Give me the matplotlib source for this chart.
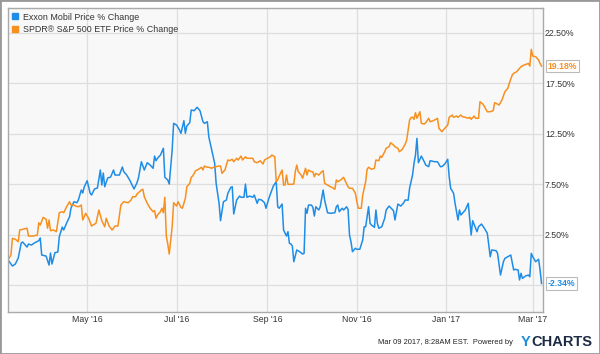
import pandas as pd
import matplotlib
matplotlib.use('Agg')
import matplotlib.pyplot as plt
from matplotlib.lines import Line2D
from matplotlib.patches import Rectangle

plt.rcParams['font.family'] = ['Liberation Sans', 'DejaVu Sans']

# day offsets from the base date, % change since base
start = pd.Timestamp('2016-03-08')

xom_days = [0, 3, 5, 7, 9, 10, 13, 14, 16, 18,
            21, 22, 23, 26, 28, 29, 30, 32, 34, 35,
            37, 38, 40, 42, 43, 45, 47, 48, 50, 51,
            52, 54, 56, 57, 59, 61, 63, 64, 65, 66,
            68, 70, 72, 73, 76, 78, 79, 81, 83, 84,
            86, 88, 89, 91, 93, 95, 97, 99, 100, 101,
            102, 104, 105, 106, 107, 109, 110, 112, 113, 115,
            117, 118, 120, 121, 122, 124, 125, 127, 129, 131,
            133, 134, 136, 137, 139, 141, 142, 144, 145, 147,
            149, 150, 152, 153, 154, 156, 158, 159, 161, 162,
            163, 165, 167, 168, 170, 171, 173, 175, 176, 178,
            180, 181, 183, 184, 185, 187, 188, 190, 191, 192,
            193, 194, 195, 197, 199, 201, 202, 203, 204, 205,
            207, 208, 209, 210, 212, 213, 214, 215, 216, 218,
            220, 223, 224, 225, 226, 228, 229, 231, 232, 233,
            234, 235, 237, 238, 240, 242, 243, 244, 246, 247,
            248, 250, 251, 252, 253, 255, 257, 258, 260, 263,
            264, 266, 268, 270, 271, 273, 274, 276, 277, 278,
            279, 280, 282, 284, 285, 287, 288, 291, 293, 295,
            296, 298, 300, 301, 302, 304, 305, 307, 308, 309,
            310, 312, 314, 316, 317, 320, 321, 323, 325, 327,
            329, 330, 333, 334, 336, 338, 339, 341, 343, 345,
            346, 348, 349, 350, 351, 353, 355, 356, 357, 358,
            360, 362, 363, 364]
xom_vals = [0.0, -0.62, -0.42, 0.18, 1.66, 1.76, 1.26, 1.56, 1.46, 1.66,
            1.89, 2.16, 0.47, 0.37, -0.52, 0.67, -0.42, 0.70, 0.77, 2.28,
            3.24, 2.95, 3.64, 4.26, 5.13, 5.75, 5.65, 5.92, 6.91, 6.61,
            7.20, 7.83, 6.61, 6.41, 7.01, 7.11, 8.89, 7.40, 8.59, 7.23,
            8.10, 8.19, 8.89, 8.39, 8.39, 9.19, 8.72, 8.39, 7.90, 7.60,
            7.01, 7.63, 8.10, 9.71, 8.89, 9.61, 9.38, 9.06, 10.27, 9.81,
            10.05, 10.37, 10.70, 11.04, 8.17, 7.90, 7.50, 10.87, 13.51, 13.34,
            12.85, 12.52, 13.77, 12.52, 13.25, 13.57, 14.83, 14.76, 15.10, 14.76,
            13.67, 13.51, 13.67, 12.17, 10.87, 9.55, 7.57, 5.59, 3.87, 5.75,
            5.92, 6.58, 7.17, 7.23, 4.53, 5.92, 6.31, 6.19, 6.19, 7.50,
            6.19, 6.31, 6.19, 6.41, 5.59, 5.99, 5.92, 5.65, 5.10, 6.09,
            6.91, 7.30, 7.73, 5.25, 5.10, 5.52, 2.95, 2.35, 2.78, 1.63,
            1.56, 1.36, -0.19, 0.97, 0.80, 0.57, 0.64, 5.10, 4.60, 5.42,
            5.42, 5.19, 4.33, 5.25, 4.93, 5.25, 6.09, 6.91, 5.92, 4.66,
            4.60, 4.66, 5.25, 5.42, 4.76, 5.10, 4.93, 5.25, 4.99, 2.45,
            1.79, 0.80, 1.14, 1.04, 1.04, 1.96, 3.27, 3.27, 5.25, 3.61,
            3.44, 3.21, 4.93, 3.61, 3.12, 3.27, 4.11, 4.93, 5.32, 4.86,
            3.94, 5.52, 5.32, 5.65, 5.92, 5.90, 7.10, 8.40, 9.55, 10.37,
            12.03, 9.61, 10.27, 9.71, 9.38, 9.22, 9.81, 9.71, 9.71, 9.22,
            9.22, 9.48, 9.95, 8.22, 7.08, 6.58, 5.59, 3.94, 4.93, 4.43,
            4.60, 4.93, 5.59, 2.45, 3.87, 2.78, 3.27, 3.54, 3.12, 2.62,
            0.30, 0.97, 0.90, 0.64, -1.51, -0.19, 0.14, 0.30, 0.47, -1.01,
            -0.94, -1.01, -2.00, -1.34, -1.84, -1.61, -1.51, -1.68, 0.64, 0.30,
            -0.19, 0.05, -1.01, -2.34]

spy_days = [0, 2, 3, 5, 7, 8, 10, 13, 14, 17,
            20, 21, 22, 24, 26, 27, 28, 29, 31, 33,
            35, 37, 38, 40, 42, 43, 45, 46, 48, 50,
            51, 53, 55, 57, 58, 60, 62, 64, 66, 67,
            69, 71, 73, 75, 77, 79, 82, 84, 85, 87,
            88, 91, 92, 93, 95, 97, 99, 100, 101, 102,
            104, 105, 106, 107, 108, 109, 110, 112, 113, 115,
            116, 118, 119, 121, 122, 124, 125, 126, 128, 129,
            130, 132, 133, 134, 136, 137, 139, 141, 142, 144,
            145, 146, 148, 150, 151, 153, 154, 156, 157, 159,
            160, 162, 163, 165, 167, 168, 170, 172, 174, 175,
            177, 179, 180, 182, 183, 184, 185, 187, 188, 189,
            190, 191, 193, 195, 196, 197, 198, 200, 201, 203,
            204, 205, 207, 208, 209, 210, 212, 213, 214, 215,
            216, 218, 220, 221, 223, 224, 225, 227, 229, 230,
            232, 233, 235, 237, 238, 239, 241, 242, 244, 245,
            246, 248, 250, 251, 253, 254, 255, 257, 258, 260,
            261, 263, 264, 266, 267, 269, 271, 272, 273, 274,
            275, 276, 277, 278, 279, 281, 282, 284, 285, 287,
            288, 290, 292, 293, 294, 296, 298, 300, 301, 303,
            304, 306, 307, 309, 310, 312, 314, 315, 316, 318,
            319, 321, 322, 324, 326, 327, 329, 331, 332, 334,
            335, 337, 339, 341, 342, 344, 345, 347, 349, 350,
            352, 354, 355, 356, 357, 358, 360, 362, 363, 364]
spy_vals = [0.0, 0.47, 2.12, 2.03, 1.79, 2.95, 3.02, 3.12, 2.35, 2.35,
            2.45, 3.67, 3.44, 4.20, 4.01, 3.12, 3.94, 2.88, 2.95, 2.78,
            4.66, 4.76, 4.66, 5.25, 5.75, 5.42, 5.42, 5.32, 5.25, 5.42,
            3.94, 4.60, 4.11, 3.34, 3.44, 3.61, 4.93, 3.87, 3.27, 4.11,
            3.34, 2.95, 3.34, 3.34, 5.42, 5.75, 5.65, 5.92, 6.24, 6.24,
            6.51, 6.91, 6.98, 6.24, 5.59, 5.10, 4.76, 4.86, 4.11, 4.43,
            4.76, 5.10, 4.66, 6.19, 2.35, 1.56, 0.57, 3.27, 5.65, 5.32,
            5.75, 5.19, 5.10, 6.09, 7.23, 7.57, 8.17, 8.29, 8.82, 8.89,
            8.96, 9.16, 8.89, 9.28, 9.16, 9.16, 9.06, 9.22, 9.22, 9.28,
            9.28, 8.56, 8.89, 9.88, 9.81, 9.95, 9.71, 10.05, 9.88, 10.27,
            9.88, 10.20, 10.05, 10.05, 10.05, 9.71, 9.61, 9.81, 9.48, 9.88,
            10.05, 10.20, 10.37, 10.20, 7.73, 7.90, 8.29, 8.89, 7.40, 7.40,
            8.39, 7.47, 7.47, 7.50, 8.72, 9.38, 8.72, 8.39, 8.07, 9.06,
            8.39, 8.89, 8.72, 8.72, 8.22, 8.56, 8.39, 8.56, 8.72, 8.82,
            7.57, 7.40, 7.23, 7.17, 6.98, 7.90, 7.73, 7.90, 8.17, 7.83,
            7.23, 7.08, 7.08, 6.58, 5.75, 5.10, 5.10, 6.41, 7.73, 8.96,
            9.16, 8.96, 9.06, 9.88, 9.81, 10.27, 10.14, 10.70, 11.04, 11.20,
            11.59, 11.36, 11.20, 11.04, 10.70, 10.94, 11.46, 11.86, 12.85, 13.84,
            14.09, 14.11, 13.91, 14.56, 14.01, 14.66, 13.51, 13.44, 13.57, 14.01,
            13.67, 13.77, 13.91, 14.01, 13.02, 12.68, 13.02, 13.34, 14.11, 14.33,
            14.11, 14.23, 14.11, 14.33, 14.17, 14.11, 14.01, 14.11, 13.91, 14.23,
            14.01, 14.01, 15.65, 15.42, 14.90, 14.66, 14.66, 14.76, 15.55, 15.42,
            15.32, 15.82, 16.64, 16.98, 17.47, 18.29, 18.46, 18.62, 18.96, 19.12,
            19.28, 19.38, 19.45, 19.18, 20.84, 20.17, 20.11, 19.78, 19.45, 19.18]

series_names = ['Exxon Mobil Price % Change', 'SPDR\u00ae S&P 500 ETF Price % Change']
series_colors = ['#1f8de6', '#f7901f']

ytick_vals = [-2.5, 2.5, 7.5, 12.5, 17.5, 22.5]
ytick_labels = ['', '2.50%', '7.50%', '12.50%', '17.50%', '22.50%']
xtick_dates = ['2016-05-01', '2016-07-01', '2016-09-01', '2016-11-01', '2017-01-01', '2017-03-01']
xtick_labels = ["May '16", "Jul '16", "Sep '16", "Nov '16", "Jan '17", "Mar '17"]

xom_dates = start + pd.to_timedelta(xom_days, unit='D')
spy_dates = start + pd.to_timedelta(spy_days, unit='D')

fig = plt.figure(figsize=(6, 3.54), dpi=100)
ax = fig.add_axes([8 / 600, 1 - 312 / 354, 535 / 600, 304 / 354])
ax.set_facecolor('#f8f8f8')

ax.plot(xom_dates, xom_vals, color=series_colors[0], lw=1.1)
ax.plot(spy_dates, spy_vals, color=series_colors[1], lw=1.1)

ax.set_xlim(start, start + pd.Timedelta(days=365))
ax.set_ylim(-5.17, 24.93)

ax.set_yticks(ytick_vals)
ax.set_yticklabels(ytick_labels)
ax.yaxis.tick_right()
ax.set_xticks(pd.to_datetime(xtick_dates))
ax.set_xticklabels(xtick_labels)
ax.tick_params(length=0, labelsize=6.3, colors='#333333')
ax.tick_params(axis='x', pad=2.5)
ax.tick_params(axis='y', pad=1.5)

ax.grid(color='#dedede', lw=0.9)
ax.set_axisbelow(True)
for s in ax.spines.values():
    s.set_color('#aaaaaa')
    s.set_linewidth(1)

handles = [Line2D([], [], marker='s', ls='none', color=c, markersize=4.5) for c in series_colors]
ax.legend(handles, series_names, loc='upper left', bbox_to_anchor=(0.008, 0.985),
          frameon=False, fontsize=6.4, handlelength=0.7, handletextpad=0.5,
          labelspacing=0.35, borderpad=0, borderaxespad=0, labelcolor='#333333')

# end-of-series value tags
for vals, c in [(spy_vals, series_colors[1]), (xom_vals, series_colors[0])]:
    ax.annotate(f'{vals[-1]:.2f}%', xy=(1, vals[-1]), xycoords=('axes fraction', 'data'),
                xytext=(3.3, 0), textcoords='offset points', ha='left', va='center',
                fontsize=6.2, fontweight='bold', color=c, annotation_clip=False,
                bbox=dict(boxstyle='square,pad=0.2', fc='white', ec='#bbbbbb', lw=0.8))

fig.text(513 / 600, 1 - 342 / 354, 'Mar 09 2017, 8:28AM EST.  Powered by',
         ha='right', va='center', fontsize=5.4, color='#222222')
fig.text(521 / 600, 1 - 342 / 354, 'Y', ha='left', va='center', fontsize=10.5,
         fontweight='bold', color='#1a8fd8')
fig.text(531 / 600, 1 - 342 / 354, 'CHARTS', ha='left', va='center', fontsize=10.5,
         fontweight='bold', color='#1d2b44')

fig.patches.append(Rectangle((0, 0), 1, 1, transform=fig.transFigure, fill=False,
                             ec='#999999', lw=2))

fig.savefig('out.png', dpi=100)
